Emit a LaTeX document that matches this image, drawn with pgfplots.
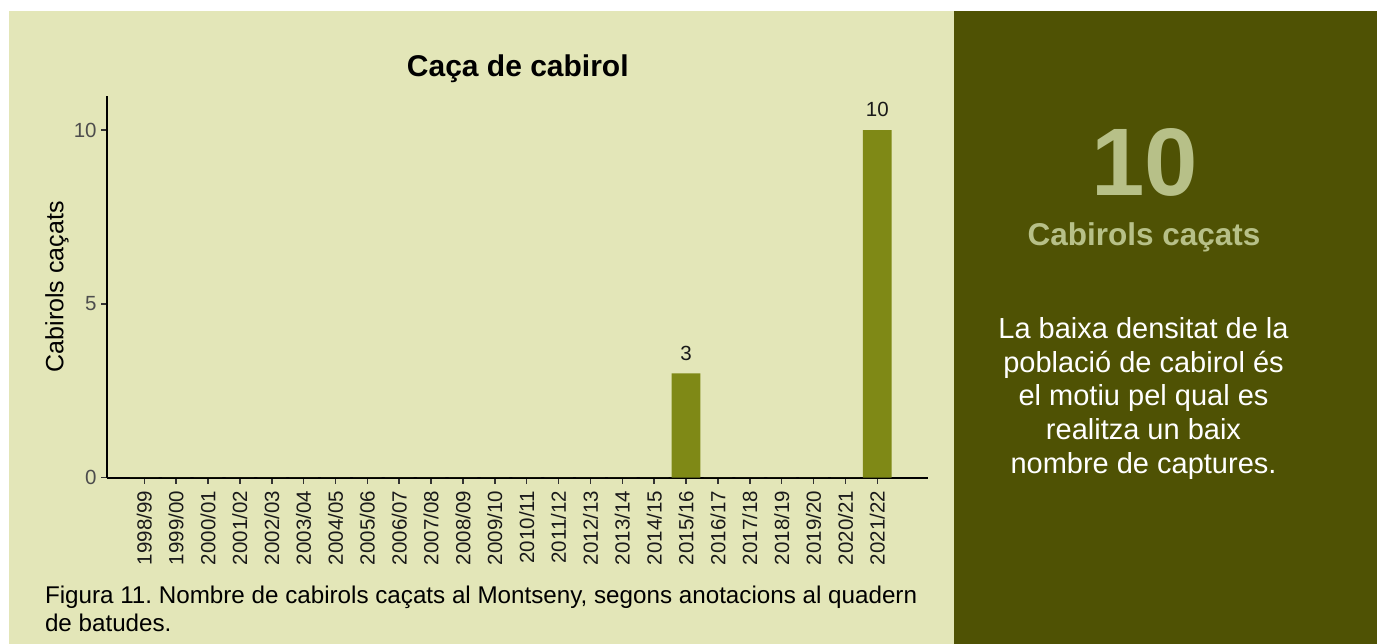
\documentclass[border=0pt]{standalone}
\usepackage{pgfplots}
\pgfplotsset{compat=1.18}
\usepackage{pgfplotstable}
\usepackage{fontspec}
\setmainfont{Liberation Sans}
\frenchspacing
\definecolor{panelbg}{HTML}{E3E6B8}
\definecolor{darkbg}{HTML}{4F5204}
\definecolor{barcol}{HTML}{7F8916}
\definecolor{bigtxt}{HTML}{B7C088}
\definecolor{greythirty}{HTML}{4D4D4D}

\pgfplotstableread{
x y lab
0 0 {}
1 0 {}
2 0 {}
3 0 {}
4 0 {}
5 0 {}
6 0 {}
7 0 {}
8 0 {}
9 0 {}
10 0 {}
11 0 {}
12 0 {}
13 0 {}
14 0 {}
15 0 {}
16 0 {}
17 3 3
18 0 {}
19 0 {}
20 0 {}
21 0 {}
22 0 {}
23 10 10
}\cacadata

\begin{document}
\frenchspacing
\begin{tikzpicture}
\useasboundingbox (0,0) rectangle (1377bp,-644bp);
\fill[white] (0,0) rectangle (1377bp,-644bp);
\fill[panelbg] (9bp,-11bp) rectangle (954bp,-644bp);
\fill[darkbg] (954bp,-11bp) rectangle (1377bp,-644bp);
\begin{axis}[
  at={(107.3bp,-477.7bp)}, anchor=south west,
  scale only axis, width=821bp, height=381.7bp,
  xmin=-1.16, xmax=24.6, ymin=0, ymax=10.98,
  axis x line*=bottom, axis y line*=left,
  axis line style={line width=2bp, black},
  xtick={0,...,23},
  xticklabels={1998/99,1999/00,2000/01,2001/02,2002/03,2003/04,2004/05,2005/06,2006/07,2007/08,2008/09,2009/10,2010/11,2011/12,2012/13,2013/14,2014/15,2015/16,2016/17,2017/18,2018/19,2019/20,2020/21,2021/22},
  ytick={0,5,10},
  tick align=outside, major tick length=6bp,
  tick style={line width=1.5bp, color=black!80},
  /pgf/number format/assume math mode=true,
  yticklabel style={font=\fontsize{20.5bp}{24bp}\selectfont, text=greythirty, anchor=east, inner sep=0pt, xshift=-4.5bp},
  xticklabel style={font=\fontsize{20.5bp}{24bp}\selectfont, text=black!90, yshift=-7bp, rotate=90, anchor=east, inner sep=0pt},
  ylabel={Cabirols caçats},
  every axis y label/.style={at={(axis description cs:-0.0536,0.5)}, rotate=90, anchor=base, font=\fontsize{25bp}{30bp}\selectfont},
  clip=false,
]
\addplot[ybar, bar width=0.9, fill=barcol, draw=none,
  nodes near coords, point meta=explicit symbolic,
  every node near coord/.append style={font=\fontsize{20.5bp}{24bp}\selectfont, text=black!90, inner sep=0pt, yshift=13bp}]
  table[x=x, y=y, meta=lab] {\cacadata};
\end{axis}
\node[anchor=base, inner sep=0pt, font=\bfseries\fontsize{30bp}{36bp}\selectfont] at (517.8bp,-76.7bp) {Caça de cabirol};
\node[anchor=base west, inner sep=0pt, font=\fontsize{24.2bp}{29bp}\selectfont] at (44.8bp,-603bp) {Figura 11. Nombre de cabirols caçats al Montseny, segons anotacions al quadern};
\node[anchor=base west, inner sep=0pt, font=\fontsize{24.2bp}{29bp}\selectfont] at (44.8bp,-631.7bp) {de batudes.};
\node[anchor=base, inner sep=0pt, text=bigtxt, font=\bfseries\fontsize{96bp}{110bp}\selectfont] at (1145bp,-195bp) {10};
\node[anchor=base, inner sep=0pt, text=bigtxt, font=\bfseries\fontsize{31.5bp}{36bp}\selectfont] at (1144bp,-245bp) {Cabirols caçats};
\begin{scope}[every node/.style={anchor=base, inner sep=0pt, text=white, font=\fontsize{29bp}{34bp}\selectfont}]
\node at (1143.5bp,-338.3bp) {La baixa densitat de la};
\node at (1143.5bp,-372bp) {població de cabirol és};
\node at (1143.5bp,-405.7bp) {el motiu pel qual es};
\node at (1143.5bp,-439.4bp) {realitza un baix};
\node at (1143.5bp,-473.1bp) {nombre de captures.};
\end{scope}
\end{tikzpicture}
\end{document}
